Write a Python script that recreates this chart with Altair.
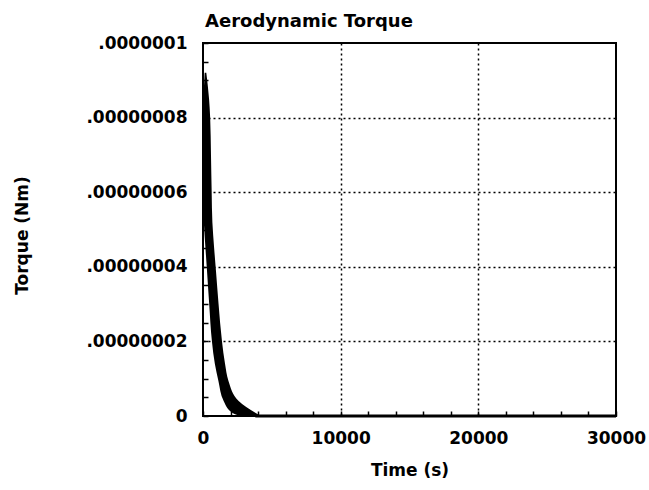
import altair as alt
import pandas as pd

# Envelope of the (dense, oscillating) torque trace
band_torque = [0.92e-7, 0.85e-7, 0.80e-7, 0.70e-7, 0.60e-7, 0.52e-7, 0.45e-7, 0.39e-7,
               0.30e-7, 0.20e-7, 0.14e-7, 0.094e-7, 0.04e-7, 0.008e-7, 0.0]
band_t_low = [120, 40, 20, 10, 10, 60, 180, 290, 450, 650, 860, 1120, 1500, 2150, 2700]
band_t_high = [240, 440, 520, 580, 630, 680, 810, 940, 1130, 1380, 1600, 1850, 2590, 3830, 4200]

tail_t = [3800, 30000]
tail_torque = [0.0, 0.0]

x_ticks = list(range(0, 30001, 2000))
y_ticks = [k * 5e-9 for k in range(21)]

band = pd.DataFrame({"v": band_torque, "t_lo": band_t_low, "t_hi": band_t_high})
tail = pd.DataFrame({"t": tail_t, "v": tail_torque})

FONT = "DejaVu Sans"

x_axis = alt.Axis(
    values=x_ticks,
    labelExpr="datum.value % 10000 == 0 ? format(datum.value, 'd') : ''",
    labelFlush=False, labelOverlap=False,
    tickSize=5, offset=-5, labelPadding=14,
    domain=False, tickColor="black", tickWidth=1.5,
    grid=True, gridColor="black", gridDash=[2, 3], gridWidth=1.5,
    gridOpacity={"condition": {"test": "datum.value % 10000 == 0 && datum.value > 0 && datum.value < 30000", "value": 1}, "value": 0},
    labelFont=FONT, labelFontSize=17, labelFontWeight="bold", labelColor="black",
    title="Time (s)", titleFont=FONT, titleFontSize=17, titleFontWeight="bold",
    titleColor="black", titlePadding=16,
)
y_axis = alt.Axis(
    values=y_ticks,
    labelExpr="round(datum.value*1e9) % 20 == 0 ? (datum.value == 0 ? '0' : (round(datum.value*1e9) == 100 ? '.0000001' : '.0000000' + round(datum.value*1e8))) : ''",
    labelFlush=False, labelOverlap=False,
    tickSize=5, offset=-5, labelPadding=16,
    domain=False, tickColor="black", tickWidth=1.5,
    grid=True, gridColor="black", gridDash=[2, 3], gridWidth=1.5,
    gridOpacity={"condition": {"test": "round(datum.value*1e9) % 20 == 0 && datum.value > 0 && round(datum.value*1e9) < 100", "value": 1}, "value": 0},
    labelFont=FONT, labelFontSize=17, labelFontWeight="bold", labelColor="black",
    title="Torque (Nm)", titleFont=FONT, titleFontSize=17, titleFontWeight="bold",
    titleColor="black", titleX=-177, titleY=192,
)

x_scale = alt.Scale(domain=[0, 30000], nice=False, zero=False)
y_scale = alt.Scale(domain=[0, 1e-7], nice=False)

area = alt.Chart(band).mark_area(orient="horizontal", color="black", interpolate="monotone").encode(
    y=alt.Y("v:Q", scale=y_scale, axis=y_axis),
    x=alt.X("t_lo:Q", scale=x_scale, axis=x_axis),
    x2="t_hi:Q",
)
line = alt.Chart(tail).mark_line(color="black", strokeWidth=3).encode(
    x=alt.X("t:Q", scale=x_scale, axis=x_axis),
    y=alt.Y("v:Q", scale=y_scale, axis=y_axis),
)

chart = alt.layer(area, line).properties(
    width=413, height=373,
    autosize=alt.AutoSizeParams(type="none"),
    padding={"left": 203, "top": 43, "right": 33, "bottom": 74},
    background="white",
    title=alt.TitleParams("Aerodynamic Torque", anchor="start", frame="group", font=FONT,
                          fontSize=18, fontWeight="bold", color="black", offset=3, dx=2),
).configure_view(stroke="black", strokeWidth=2)

chart.save("out.html", embed_options={"renderer": "svg", "actions": False})
